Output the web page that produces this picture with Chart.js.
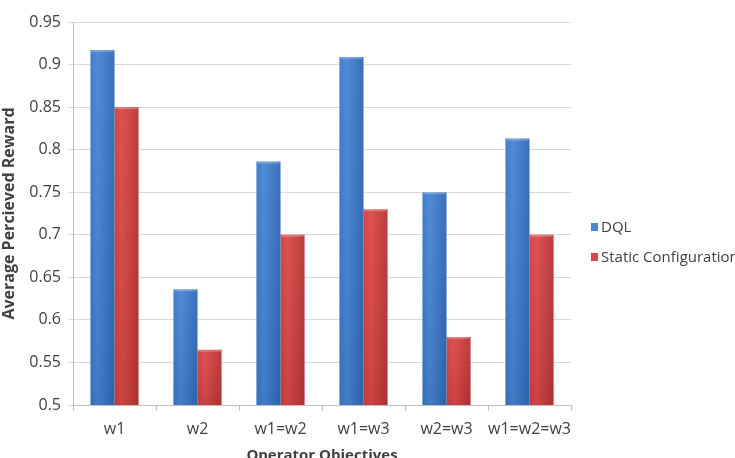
<!DOCTYPE html>
<html>
<head>
<meta charset="utf-8">
<script src="https://cdn.jsdelivr.net/npm/chart.js@4.4.1/dist/chart.umd.min.js"></script>
<style>
  html, body { margin: 0; padding: 0; background: #fff; overflow: hidden; }
  #myChart { display: block; }
</style>
</head>
<body>
<canvas id="myChart" width="735" height="465"></canvas>
<script>
var categories = ["w1", "w2", "w1=w2", "w1=w3", "w2=w3", "w1=w2=w3"];
var dqlValues = [0.917, 0.636, 0.786, 0.909, 0.75, 0.813];
var staticValues = [0.85, 0.565, 0.70, 0.73, 0.58, 0.70];
var seriesNames = ["DQL", "Static Configuration"];
var yMin = 0.5, yMax = 0.95, yStep = 0.05;

var fontFamily = "'Open Sans', sans-serif";
var textColor = "#404040";

// horizontal shading like the old office cylinder-ish bars
var shades = [
    ["#3a76c6", "#4785d4", "#3068b6"],
    ["#cf3e3e", "#dc4848", "#b83434"]
];

var barShading = {
    id: "barShading",
    beforeDatasetsDraw: function(chart) {
        var ctx = chart.ctx;
        chart.data.datasets.forEach(function(ds, di) {
            chart.getDatasetMeta(di).data.forEach(function(bar) {
                var l = bar.x - bar.width / 2, r = bar.x + bar.width / 2;
                var g = ctx.createLinearGradient(l, 0, r, 0);
                g.addColorStop(0, shades[di][0]);
                g.addColorStop(0.3, shades[di][1]);
                g.addColorStop(1, shades[di][2]);
                bar.options.backgroundColor = g;
            });
        });
    },
    afterDatasetsDraw: function(chart) {
        var ctx = chart.ctx;
        var bottom = chart.chartArea.bottom;
        chart.data.datasets.forEach(function(ds, di) {
            chart.getDatasetMeta(di).data.forEach(function(bar) {
                var l = bar.x - bar.width / 2;
                var g = ctx.createLinearGradient(0, bar.y, 0, bottom);
                g.addColorStop(0, "rgba(255,255,255,0.05)");
                g.addColorStop(1, "rgba(0,0,0,0.07)");
                ctx.save();
                ctx.fillStyle = g;
                ctx.fillRect(l, bar.y, bar.width, bottom - bar.y);
                // light lip on top
                ctx.fillStyle = "rgba(255,255,255,0.25)";
                ctx.fillRect(l + 1, bar.y, bar.width - 2, 2);
                ctx.restore();
            });
        });
    }
};

// legend placed at the right, text allowed to run off the canvas
var sideLegend = {
    id: "sideLegend",
    afterDraw: function(chart) {
        var ctx = chart.ctx;
        var ys = [227, 257];
        ctx.save();
        ctx.font = "15px " + fontFamily;
        ctx.textBaseline = "middle";
        ctx.textAlign = "left";
        chart.data.datasets.forEach(function(ds, di) {
            ctx.fillStyle = shades[di][1];
            ctx.fillRect(591, ys[di] - 4, 7, 8);
            ctx.fillStyle = textColor;
            ctx.fillText(ds.label, 601, ys[di] + 1);
        });
        ctx.restore();
    }
};

var ctx = document.getElementById("myChart").getContext("2d");
var myChart = new Chart(ctx, {
    type: "bar",
    data: {
        labels: categories,
        datasets: [
            { label: seriesNames[0], data: dqlValues,
              backgroundColor: function(c) { return shades[0][1]; } },
            { label: seriesNames[1], data: staticValues,
              backgroundColor: function(c) { return shades[1][1]; } }
        ]
    },
    options: {
        responsive: false,
        animation: false,
        categoryPercentage: 0.58,
        barPercentage: 1.0,
        layout: { padding: { top: 22, right: 164, left: 0, bottom: 0 } },
        plugins: {
            legend: { display: false },
            tooltip: { enabled: false }
        },
        scales: {
            x: {
                afterFit: function(scale) { scale.height = 60; },
                grid: {
                    offset: true,
                    drawOnChartArea: false,
                    drawTicks: true,
                    tickLength: 6,
                    color: "#bfbfbf"
                },
                border: { color: "#bfbfbf" },
                ticks: {
                    color: textColor,
                    padding: 9,
                    maxRotation: 0,
                    autoSkip: false,
                    font: { family: fontFamily, size: 16 }
                },
                title: {
                    display: true,
                    text: "Operator Objectives",
                    color: textColor,
                    padding: { top: 0, bottom: 0 },
                    font: { family: fontFamily, size: 15, weight: "bold" }
                }
            },
            y: {
                min: yMin,
                max: yMax,
                afterFit: function(scale) { scale.width = 73; },
                grid: {
                    color: "#d9d9d9",
                    tickLength: 5,
                    drawTicks: true
                },
                border: { color: "#bfbfbf" },
                ticks: {
                    stepSize: yStep,
                    color: textColor,
                    padding: 7,
                    font: { family: fontFamily, size: 16 },
                    callback: function(v) { return String(+v.toFixed(2)); }
                },
                title: {
                    display: true,
                    text: "Average Percieved Reward",
                    color: textColor,
                    padding: { top: 0, bottom: 0 },
                    font: { family: fontFamily, size: 16, weight: "bold" }
                }
            }
        }
    },
    plugins: [barShading, sideLegend]
});
</script>
</body>
</html>
